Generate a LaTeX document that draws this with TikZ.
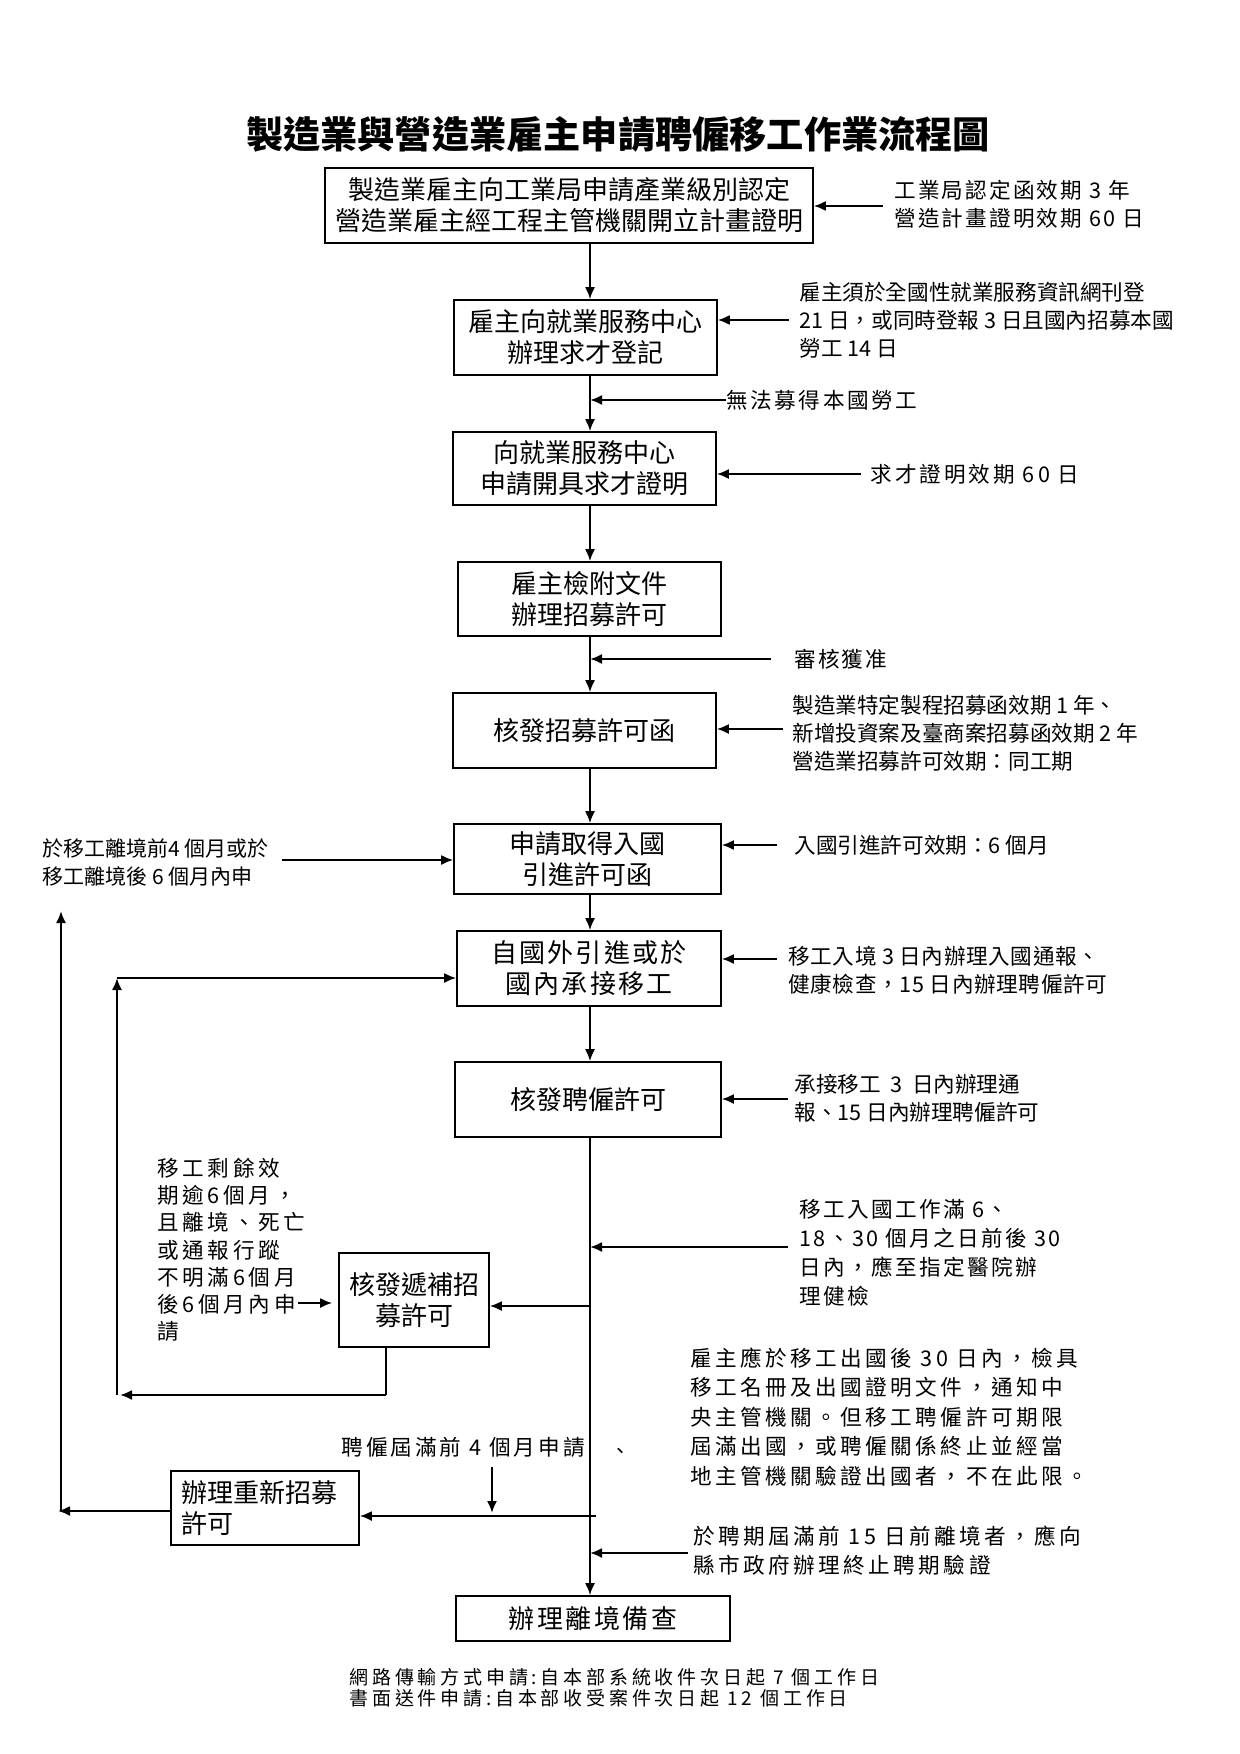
\documentclass[tikz,border=0pt]{standalone}
\usepackage{fontspec}
\setmainfont{Noto Sans CJK TC}
\usetikzlibrary{arrows.meta}
\newcommand{\lsp}[1]{\addfontfeature{LetterSpace=#1}}
\begin{document}
\begin{tikzpicture}[x=0.5pt,y=-0.5pt,
  box/.style={draw, line width=0.8pt, inner sep=0pt, align=center, font=\fontsize{13}{15.5}\selectfont},
  note/.style={inner sep=0pt, align=left, anchor=west, font=\fontsize{10.8}{14}\selectfont},
  arr/.style={line width=1pt, -{Latex[length=6pt,width=5pt]}},
  ln/.style={line width=1pt}]
\useasboundingbox[fill=white] (0,0) rectangle (1240,1754);

% title
\node[inner sep=0pt, font=\fontsize{18.6}{22}\selectfont\bfseries] (title) at (618,134) {製造業與營造業雇主申請聘僱移工作業流程圖};

% spine reference
\coordinate (sp) at (590,0);

% boxes
\node[box, minimum width=244pt, minimum height=37.5pt] (b1) at (569,205.5) {製造業雇主向工業局申請產業級別認定\\營造業雇主經工程主管機關開立計畫證明};
\node[box, minimum width=131.5pt, minimum height=37.5pt] (b2) at (585.5,337.5) {雇主向就業服務中心\\辦理求才登記};
\node[box, minimum width=131.5pt, minimum height=36.5pt] (b3) at (584.5,468.5) {向就業服務中心\\申請開具求才證明};
\node[box, minimum width=131.5pt, minimum height=37pt] (b4) at (589.5,599) {雇主檢附文件\\辦理招募許可};
\node[box, minimum width=131.5pt, minimum height=37.5pt] (b5) at (584.5,730.5) {核發招募許可函};
\node[box, minimum width=133.5pt, minimum height=35pt] (b6) at (587.5,859) {申請取得入國\\引進許可函};
\node[box, minimum width=132pt, minimum height=37.5pt, font=\fontsize{13}{15.5}\selectfont\lsp{8}] (b7) at (589,968.5) {自國外引進或於\\國內承接移工};
\node[box, minimum width=133pt, minimum height=37.5pt] (b8) at (588,1099.5) {核發聘僱許可};
\node[box, minimum width=75pt, minimum height=47pt] (b9) at (414,1300) {核發遞補招\\募許可};
\node[box, minimum width=94pt, minimum height=37pt, align=left, text width=84pt] (b10) at (265,1508) {辦理重新招募\\許可};
\node[box, minimum width=137pt, minimum height=22.5pt, font=\fontsize{13}{15.5}\selectfont\lsp{10}] (b11) at (593,1618.5) {辦理離境備查};

% spine connectors
\draw[arr] (b1.south -| sp) -- (b2.north -| sp);
\draw[arr] (b2.south -| sp) -- (b3.north -| sp);
\draw[arr] (b3.south -| sp) -- (b4.north -| sp);
\draw[arr] (b4.south -| sp) -- (b5.north -| sp);
\draw[arr] (b5.south -| sp) -- (b6.north -| sp);
\draw[arr] (b6.south -| sp) -- (b7.north -| sp);
\draw[arr] (b7.south -| sp) -- (b8.north -| sp);
\draw[arr] (b8.south -| sp) -- (b11.north -| sp);

% right annotations
\node[note, font=\fontsize{10.8}{14}\selectfont\lsp{10}] (a1) at (894,204) {工業局認定函效期 3 年\\營造計畫證明效期 60 日};
\coordinate (a1s) at (883,206);
\draw[arr] (a1s) -- (a1s -| b1.east);

\node[note] (a2) at (799,320) {雇主須於全國性就業服務資訊網刊登\\21 日，或同時登報 3 日且國內招募本國\\勞工 14 日};
\coordinate (a2s) at (789,320);
\draw[arr] (a2s) -- (a2s -| b2.east);

\node[note, font=\fontsize{10.8}{14}\selectfont\lsp{12}] (a2b) at (726,400) {無法募得本國勞工};
\draw[arr] (a2b.west) -- (a2b.west -| sp);

\node[note, font=\fontsize{10.8}{14}\selectfont\lsp{14}] (a3) at (870,474) {求才證明效期 60 日};
\coordinate (a3s) at (861,474);
\draw[arr] (a3s) -- (a3s -| b3.east);

\node[note, font=\fontsize{10.8}{14}\selectfont\lsp{10}] (a4) at (794,659) {審核獲准};
\coordinate (a4s) at (771,659);
\draw[arr] (a4s) -- (a4s -| sp);

\node[note] (a5) at (792,733) {製造業特定製程招募函效期 1 年、\\新增投資案及臺商案招募函效期 2 年\\營造業招募許可效期：同工期};
\coordinate (a5s) at (783,729);
\draw[arr] (a5s) -- (a5s -| b5.east);

\node[note] (a6) at (794,845) {入國引進許可效期：6 個月};
\coordinate (a6s) at (777,845);
\draw[arr] (a6s) -- (a6s -| b6.east);

\node[note, font=\fontsize{10.5}{14}\selectfont] (l6) at (42,862) {於移工離境前4 個月或於\\移工離境後 6 個月內申};
\coordinate (l6s) at (282,860);
\draw[arr] (l6s) -- (l6s -| b6.west);

\node[note, font=\fontsize{10.8}{14}\selectfont\lsp{3}] (a7) at (788,970) {移工入境 3 日內辦理入國通報、\\健康檢查，15 日內辦理聘僱許可};
\coordinate (a7s) at (777,959);
\draw[arr] (a7s) -- (a7s -| b7.east);

\node[note] (a8) at (794,1098) {承接移工\ \ 3\ \ 日內辦理通\\報、15 日內辦理聘僱許可};
\coordinate (a8s) at (788,1099);
\draw[arr] (a8s) -- (a8s -| b8.east);

\node[note, font=\fontsize{10.8}{14.5}\selectfont\lsp{11}] (a9) at (799,1253) {移工入國工作滿 6、\\18、30 個月之日前後 30\\日內，應至指定醫院辦\\理健檢};
\coordinate (a9s) at (788,1247);
\draw[arr] (a9s) -- (a9s -| sp);

% replacement permit
\coordinate (j9) at (590,1306);
\draw[arr] (j9) -- (j9 -| b9.east);
\node[note, font=\fontsize{10.8}{13.6}\selectfont\lsp{17}] (l9) at (157,1250) {移工剩餘效\\期逾6個月，\\且離境、死亡\\或通報行蹤\\不明滿6個月\\後6個月內申\\請};
\coordinate (l9s) at (298,1303);
\draw[arr] (l9s) -- ([xshift=-3pt]l9s -| b9.west);

% loop from b9 back to b7
\coordinate (c9) at (386,1395);
\coordinate (c9l) at (120,1395);
\coordinate (c7l) at (117,978);
\draw[ln] (b9.south -| c9) -- (c9);
\draw[arr] (c9) -- (c9l);
\draw[arr] (117,1395) -- (c7l);
\draw[arr] (c7l) -- (c7l -| b7.west);

% paragraph
\node[note, font=\fontsize{10.8}{14.75}\selectfont\lsp{16}] (p) at (690,1417) {雇主應於移工出國後 30 日內，檢具\\移工名冊及出國證明文件，通知中\\央主管機關。但移工聘僱許可期限\\屆滿出國，或聘僱關係終止並經當\\地主管機關驗證出國者，不在此限。};

% re-recruit
\node[note, font=\fontsize{10.8}{14}\selectfont\lsp{14}] (q) at (341,1447) {聘僱屆滿前 4 個月申請};
\node[inner sep=0pt, font=\fontsize{10}{12}\selectfont] (dot) at (620,1453) {、};
\coordinate (h10) at (596,1516);
\coordinate (d1) at (492,1467);
\coordinate (d2) at (492,1513);
\draw[arr] (d1) -- (d2);
\draw[arr] (h10) -- (h10 -| b10.east);
\coordinate (c10) at (58,1511);
\coordinate (c10t) at (61,911);
\draw[arr] (b10.west |- c10) -- (c10);
\draw[arr] (61,1511) -- (c10t);

\node[note, font=\fontsize{10.8}{14.5}\selectfont\lsp{16}] (r) at (693,1551) {於聘期屆滿前 15 日前離境者，應向\\縣市政府辦理終止聘期驗證};
\coordinate (rs) at (688,1553);
\draw[arr] (rs) -- (rs -| sp);

% footer
\node[note, font=\fontsize{9.5}{10.5}\selectfont\lsp{20}] (f) at (349,1688) {網路傳輸方式申請:自本部系統收件次日起 7 個工作日\\書面送件申請:自本部收受案件次日起 12 個工作日};
\end{tikzpicture}
\end{document}
